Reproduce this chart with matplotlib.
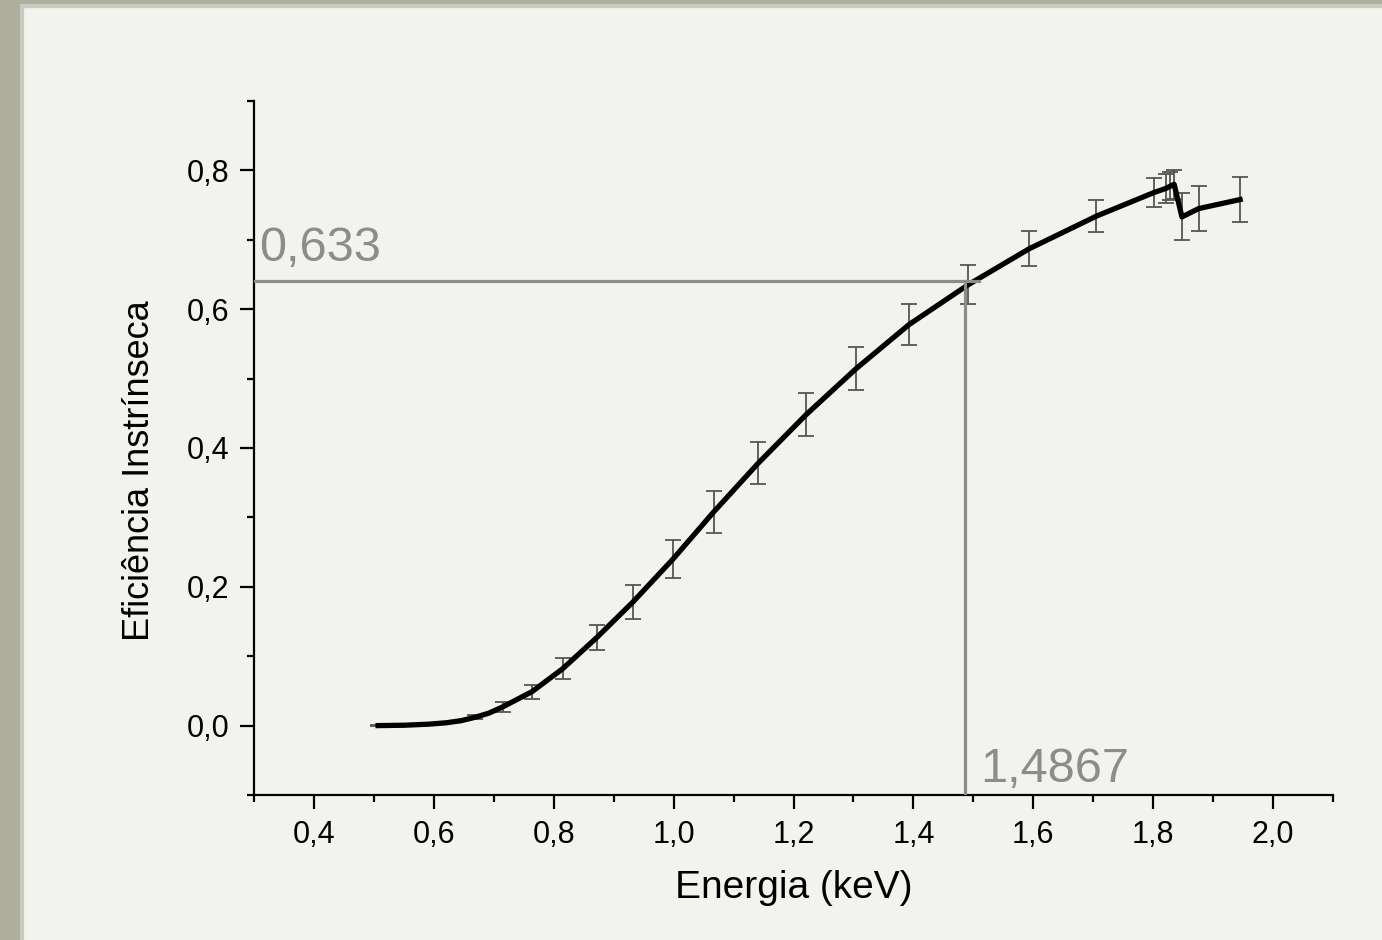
import matplotlib
matplotlib.use("Agg")
from matplotlib import pyplot as plt
from matplotlib.patches import Rectangle
from matplotlib.ticker import MultipleLocator, FuncFormatter

# dados
energia = [0.507, 0.55, 0.59, 0.62, 0.645, 0.669, 0.692, 0.715, 0.764, 0.815, 0.872,
           0.932, 0.999, 1.067, 1.141, 1.221, 1.304, 1.393, 1.491, 1.593, 1.705,
           1.801, 1.821, 1.828, 1.835, 1.848, 1.876, 1.945]
eficiencia = [0.0, 0.0005, 0.002, 0.004, 0.007, 0.012, 0.018, 0.027, 0.049, 0.082, 0.127,
              0.178, 0.240, 0.308, 0.378, 0.448, 0.514, 0.578, 0.635, 0.687, 0.734,
              0.768, 0.774, 0.777, 0.780, 0.733, 0.745, 0.758]
erro = [0.001, 0.0, 0.0, 0.0, 0.0, 0.003, 0.0, 0.007, 0.010, 0.015, 0.018,
        0.024, 0.028, 0.030, 0.030, 0.031, 0.031, 0.030, 0.028, 0.025, 0.023,
        0.021, 0.021, 0.020, 0.021, 0.034, 0.033, 0.032]
barra = [e > 0 for e in erro]

ref_x = 1.4867
ref_y = 0.64
ref_x_label = '1,4867'
ref_y_label = '0,633'

plt.rcParams['font.family'] = ['Liberation Sans', 'DejaVu Sans']

fig = plt.figure(figsize=(13.82, 9.40), dpi=100, facecolor='#aeae9f')
fig.patches.append(Rectangle((22 / 1382, -0.05), 1.1, 1.05 - 6 / 940, transform=fig.transFigure,
                             facecolor='#f2f2ee', edgecolor='#c9c9bd', linewidth=3, zorder=-5))

ax = fig.add_axes([254 / 1382, 1 - 795 / 940, (1333 - 254) / 1382, (795 - 101) / 940])
ax.set_facecolor('none')

ex = [x for x, b in zip(energia, barra) if b]
ey = [y for y, b in zip(eficiencia, barra) if b]
ee = [e for e, b in zip(erro, barra) if b]
ax.errorbar(ex, ey, yerr=ee, fmt='none', ecolor='#555555',
            elinewidth=1.3, capsize=6, capthick=1.3, zorder=2)
ax.plot(energia, eficiencia, color='black', linewidth=3.8, solid_joinstyle='round', zorder=3)

# linhas de referência
ax.plot([0.3, 1.51], [ref_y, ref_y], color='#8c8c8c', linewidth=2.3, zorder=4)
ax.plot([ref_x, ref_x], [-0.097, ref_y], color='#8c8c8c', linewidth=2.3, zorder=4)
ax.text(0.309, 0.669, ref_y_label, color='#8c8c8c', fontsize=35, ha='left', va='baseline')
ax.text(1.512, -0.081, ref_x_label, color='#8c8c8c', fontsize=35, ha='left', va='baseline')

ax.set_xlim(0.3, 2.1)
ax.set_ylim(-0.1, 0.9)

ax.xaxis.set_minor_locator(MultipleLocator(0.1))
ax.yaxis.set_minor_locator(MultipleLocator(0.1))

virgula = FuncFormatter(lambda v, pos: f'{v:.1f}'.replace('.', ',').replace('-0,0', '0,0'))
ax.set_xticks([0.4, 0.6, 0.8, 1.0, 1.2, 1.4, 1.6, 1.8, 2.0])
ax.set_yticks([0.0, 0.2, 0.4, 0.6, 0.8])
ax.xaxis.set_major_formatter(virgula)
ax.yaxis.set_major_formatter(virgula)

for lado in ['top', 'right']:
    ax.spines[lado].set_visible(False)
for lado in ['left', 'bottom']:
    ax.spines[lado].set_linewidth(1.6)

ax.tick_params(which='major', direction='out', length=10, width=1.6, labelsize=22, pad=8)
ax.tick_params(which='minor', direction='out', length=5, width=1.6)

ax.set_xlabel('Energia (keV)', fontsize=28)
ax.set_ylabel('Eficiência Instrínseca', fontsize=26)
ax.xaxis.set_label_coords(0.5, -0.108)
ax.yaxis.set_label_coords(-0.09, 0.467)

fig.savefig('out.png', dpi=100, facecolor=fig.get_facecolor())
